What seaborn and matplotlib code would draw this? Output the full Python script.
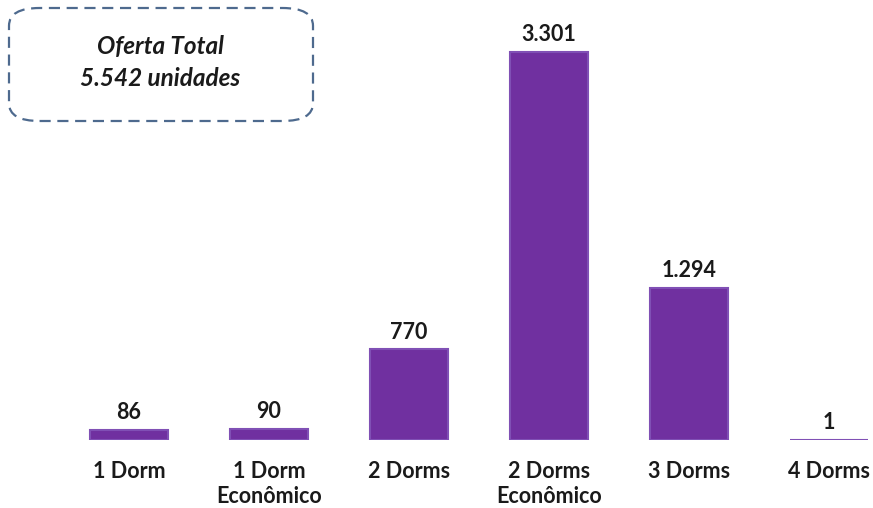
import matplotlib
matplotlib.use("Agg")
import matplotlib.pyplot as plt
import seaborn as sns
import pandas as pd
from matplotlib.patches import FancyBboxPatch

categories = ["1 Dorm", "1 Dorm\nEconômico", "2 Dorms", "2 Dorms\nEconômico", "3 Dorms", "4 Dorms"]
values = [86, 90, 770, 3301, 1294, 1]
value_labels = ["86", "90", "770", "3.301", "1.294", "1"]
box_lines = ["Oferta Total", "5.542 unidades"]

sns.set_theme(style="white")
plt.rcParams["font.family"] = ["Lato", "DejaVu Sans"]

W, H = 873, 508
fig = plt.figure(figsize=(W / 100, H / 100), dpi=100)
ax = fig.add_axes([59 / W, 68 / H, (W - 59) / W, (H - 68) / H])

df = pd.DataFrame({"cat": categories, "val": values})
sns.barplot(data=df, x="cat", y="val", color="#7030A0", saturation=1, width=0.56,
            edgecolor="#8050B5", linewidth=1.5, ax=ax)

ax.set_xlim(-0.5, 5.5 - 26 / 140)
ax.set_ylim(0, 3301 + 52 / (388 / 3301))
for s in ax.spines.values():
    s.set_visible(False)
ax.set_xlabel("")
ax.set_ylabel("")
ax.set_yticks([])
ax.tick_params(axis="x", length=0, pad=15, labelsize=15.5)
for lab in ax.get_xticklabels():
    lab.set_fontweight("bold")
    lab.set_color("#1a1a1a")
    lab.set_linespacing(1.25)

for i, (v, t) in enumerate(zip(values, value_labels)):
    ax.annotate(t, (i, v), xytext=(0, 5), textcoords="offset points",
                ha="center", va="bottom", fontsize=15.5, fontweight="bold", color="#1a1a1a")

box = FancyBboxPatch((9 / W, 1 - 121 / H), 304 / W, 113 / H,
                     boxstyle="round,pad=0,rounding_size=0.035",
                     transform=fig.transFigure, fill=False,
                     edgecolor="#4E6A8E", linewidth=1.6, linestyle=(0, (5, 3)))
fig.patches.append(box)
fig.text(160 / W, 1 - 46 / H, box_lines[0], ha="center", va="center",
         fontsize=17.5, fontweight="bold", style="italic", color="#1a1a1a")
fig.text(160 / W, 1 - 78 / H, box_lines[1], ha="center", va="center",
         fontsize=17.5, fontweight="bold", style="italic", color="#1a1a1a")

fig.savefig("out.png", dpi=100)
